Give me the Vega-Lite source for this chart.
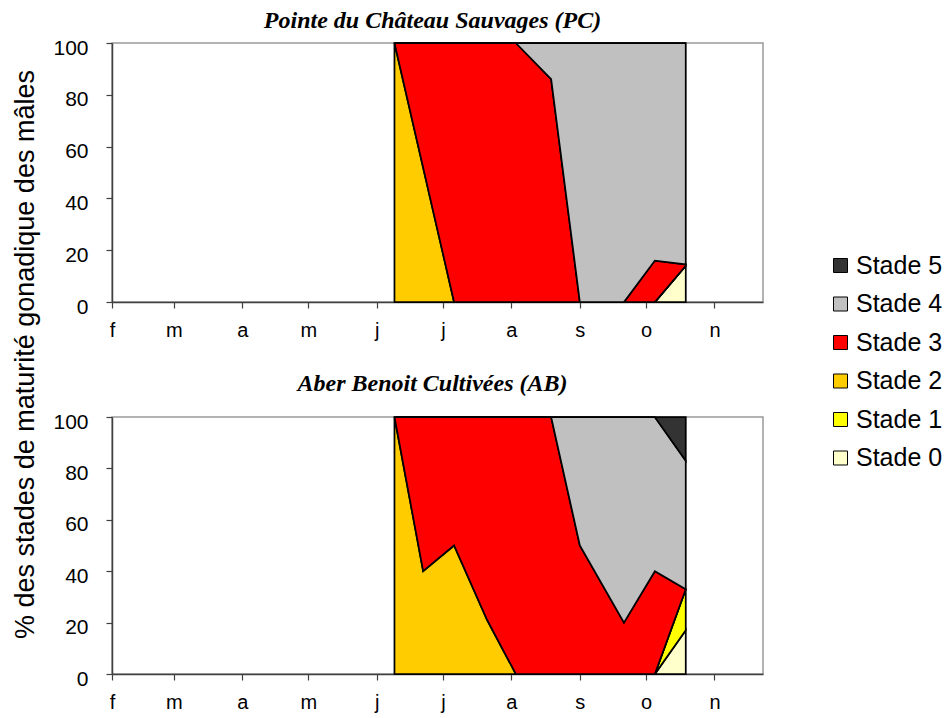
{
  "$schema": "https://vega.github.io/schema/vega-lite/v6.json",
  "background": "white",
  "padding": {"left": 10, "top": 8, "right": 2, "bottom": 5},
  "bounds": "flush",
  "spacing": 115,
  "data": {"values": [
    {"site":"PC","date":"2005-06-09","stade":"Stade 0","pct":0},
    {"site":"PC","date":"2005-06-09","stade":"Stade 1","pct":0},
    {"site":"PC","date":"2005-06-09","stade":"Stade 2","pct":100},
    {"site":"PC","date":"2005-06-09","stade":"Stade 3","pct":0},
    {"site":"PC","date":"2005-06-09","stade":"Stade 4","pct":0},
    {"site":"PC","date":"2005-06-09","stade":"Stade 5","pct":0},
    {"site":"PC","date":"2005-07-06","stade":"Stade 0","pct":0},
    {"site":"PC","date":"2005-07-06","stade":"Stade 1","pct":0},
    {"site":"PC","date":"2005-07-06","stade":"Stade 2","pct":0},
    {"site":"PC","date":"2005-07-06","stade":"Stade 3","pct":100},
    {"site":"PC","date":"2005-07-06","stade":"Stade 4","pct":0},
    {"site":"PC","date":"2005-07-06","stade":"Stade 5","pct":0},
    {"site":"PC","date":"2005-08-03","stade":"Stade 0","pct":0},
    {"site":"PC","date":"2005-08-03","stade":"Stade 1","pct":0},
    {"site":"PC","date":"2005-08-03","stade":"Stade 2","pct":0},
    {"site":"PC","date":"2005-08-03","stade":"Stade 3","pct":100},
    {"site":"PC","date":"2005-08-03","stade":"Stade 4","pct":0},
    {"site":"PC","date":"2005-08-03","stade":"Stade 5","pct":0},
    {"site":"PC","date":"2005-08-19","stade":"Stade 0","pct":0},
    {"site":"PC","date":"2005-08-19","stade":"Stade 1","pct":0},
    {"site":"PC","date":"2005-08-19","stade":"Stade 2","pct":0},
    {"site":"PC","date":"2005-08-19","stade":"Stade 3","pct":86},
    {"site":"PC","date":"2005-08-19","stade":"Stade 4","pct":14},
    {"site":"PC","date":"2005-08-19","stade":"Stade 5","pct":0},
    {"site":"PC","date":"2005-09-01","stade":"Stade 0","pct":0},
    {"site":"PC","date":"2005-09-01","stade":"Stade 1","pct":0},
    {"site":"PC","date":"2005-09-01","stade":"Stade 2","pct":0},
    {"site":"PC","date":"2005-09-01","stade":"Stade 3","pct":0},
    {"site":"PC","date":"2005-09-01","stade":"Stade 4","pct":100},
    {"site":"PC","date":"2005-09-01","stade":"Stade 5","pct":0},
    {"site":"PC","date":"2005-09-21","stade":"Stade 0","pct":0},
    {"site":"PC","date":"2005-09-21","stade":"Stade 1","pct":0},
    {"site":"PC","date":"2005-09-21","stade":"Stade 2","pct":0},
    {"site":"PC","date":"2005-09-21","stade":"Stade 3","pct":0},
    {"site":"PC","date":"2005-09-21","stade":"Stade 4","pct":100},
    {"site":"PC","date":"2005-09-21","stade":"Stade 5","pct":0},
    {"site":"PC","date":"2005-10-05","stade":"Stade 0","pct":0},
    {"site":"PC","date":"2005-10-05","stade":"Stade 1","pct":0},
    {"site":"PC","date":"2005-10-05","stade":"Stade 2","pct":0},
    {"site":"PC","date":"2005-10-05","stade":"Stade 3","pct":16},
    {"site":"PC","date":"2005-10-05","stade":"Stade 4","pct":84},
    {"site":"PC","date":"2005-10-05","stade":"Stade 5","pct":0},
    {"site":"PC","date":"2005-10-19","stade":"Stade 0","pct":14},
    {"site":"PC","date":"2005-10-19","stade":"Stade 1","pct":0},
    {"site":"PC","date":"2005-10-19","stade":"Stade 2","pct":0},
    {"site":"PC","date":"2005-10-19","stade":"Stade 3","pct":0.5},
    {"site":"PC","date":"2005-10-19","stade":"Stade 4","pct":85.5},
    {"site":"PC","date":"2005-10-19","stade":"Stade 5","pct":0},
    {"site":"AB","date":"2005-06-09","stade":"Stade 0","pct":0},
    {"site":"AB","date":"2005-06-09","stade":"Stade 1","pct":0},
    {"site":"AB","date":"2005-06-09","stade":"Stade 2","pct":100},
    {"site":"AB","date":"2005-06-09","stade":"Stade 3","pct":0},
    {"site":"AB","date":"2005-06-09","stade":"Stade 4","pct":0},
    {"site":"AB","date":"2005-06-09","stade":"Stade 5","pct":0},
    {"site":"AB","date":"2005-06-22","stade":"Stade 0","pct":0},
    {"site":"AB","date":"2005-06-22","stade":"Stade 1","pct":0},
    {"site":"AB","date":"2005-06-22","stade":"Stade 2","pct":40},
    {"site":"AB","date":"2005-06-22","stade":"Stade 3","pct":60},
    {"site":"AB","date":"2005-06-22","stade":"Stade 4","pct":0},
    {"site":"AB","date":"2005-06-22","stade":"Stade 5","pct":0},
    {"site":"AB","date":"2005-07-06","stade":"Stade 0","pct":0},
    {"site":"AB","date":"2005-07-06","stade":"Stade 1","pct":0},
    {"site":"AB","date":"2005-07-06","stade":"Stade 2","pct":50},
    {"site":"AB","date":"2005-07-06","stade":"Stade 3","pct":50},
    {"site":"AB","date":"2005-07-06","stade":"Stade 4","pct":0},
    {"site":"AB","date":"2005-07-06","stade":"Stade 5","pct":0},
    {"site":"AB","date":"2005-07-21","stade":"Stade 0","pct":0},
    {"site":"AB","date":"2005-07-21","stade":"Stade 1","pct":0},
    {"site":"AB","date":"2005-07-21","stade":"Stade 2","pct":21},
    {"site":"AB","date":"2005-07-21","stade":"Stade 3","pct":79},
    {"site":"AB","date":"2005-07-21","stade":"Stade 4","pct":0},
    {"site":"AB","date":"2005-07-21","stade":"Stade 5","pct":0},
    {"site":"AB","date":"2005-08-03","stade":"Stade 0","pct":0},
    {"site":"AB","date":"2005-08-03","stade":"Stade 1","pct":0},
    {"site":"AB","date":"2005-08-03","stade":"Stade 2","pct":0},
    {"site":"AB","date":"2005-08-03","stade":"Stade 3","pct":100},
    {"site":"AB","date":"2005-08-03","stade":"Stade 4","pct":0},
    {"site":"AB","date":"2005-08-03","stade":"Stade 5","pct":0},
    {"site":"AB","date":"2005-08-19","stade":"Stade 0","pct":0},
    {"site":"AB","date":"2005-08-19","stade":"Stade 1","pct":0},
    {"site":"AB","date":"2005-08-19","stade":"Stade 2","pct":0},
    {"site":"AB","date":"2005-08-19","stade":"Stade 3","pct":100},
    {"site":"AB","date":"2005-08-19","stade":"Stade 4","pct":0},
    {"site":"AB","date":"2005-08-19","stade":"Stade 5","pct":0},
    {"site":"AB","date":"2005-09-01","stade":"Stade 0","pct":0},
    {"site":"AB","date":"2005-09-01","stade":"Stade 1","pct":0},
    {"site":"AB","date":"2005-09-01","stade":"Stade 2","pct":0},
    {"site":"AB","date":"2005-09-01","stade":"Stade 3","pct":50},
    {"site":"AB","date":"2005-09-01","stade":"Stade 4","pct":50},
    {"site":"AB","date":"2005-09-01","stade":"Stade 5","pct":0},
    {"site":"AB","date":"2005-09-21","stade":"Stade 0","pct":0},
    {"site":"AB","date":"2005-09-21","stade":"Stade 1","pct":0},
    {"site":"AB","date":"2005-09-21","stade":"Stade 2","pct":0},
    {"site":"AB","date":"2005-09-21","stade":"Stade 3","pct":20},
    {"site":"AB","date":"2005-09-21","stade":"Stade 4","pct":80},
    {"site":"AB","date":"2005-09-21","stade":"Stade 5","pct":0},
    {"site":"AB","date":"2005-10-05","stade":"Stade 0","pct":0},
    {"site":"AB","date":"2005-10-05","stade":"Stade 1","pct":0},
    {"site":"AB","date":"2005-10-05","stade":"Stade 2","pct":0},
    {"site":"AB","date":"2005-10-05","stade":"Stade 3","pct":40},
    {"site":"AB","date":"2005-10-05","stade":"Stade 4","pct":60},
    {"site":"AB","date":"2005-10-05","stade":"Stade 5","pct":0},
    {"site":"AB","date":"2005-10-19","stade":"Stade 0","pct":17},
    {"site":"AB","date":"2005-10-19","stade":"Stade 1","pct":16},
    {"site":"AB","date":"2005-10-19","stade":"Stade 2","pct":0},
    {"site":"AB","date":"2005-10-19","stade":"Stade 3","pct":0},
    {"site":"AB","date":"2005-10-19","stade":"Stade 4","pct":50},
    {"site":"AB","date":"2005-10-19","stade":"Stade 5","pct":17}
  ]},
  "vconcat": [
    {
      "width": 651,
      "height": 259,
      "title": {"text": "Pointe du Château Sauvages (PC)", "offset": 4, "dx": -5},
      "transform": [{"filter": "datum.site === 'PC'"}],
      "mark": {"type": "area", "stroke": "black", "strokeWidth": 1.75, "opacity": 1},
      "encoding": {
        "x": {"field": "date", "type": "temporal",
              "scale": {"type": "utc", "domain": [{"year": 2005, "month": 2, "date": 1, "utc": true}, {"year": 2005, "month": 11, "date": 23, "utc": true}]},
              "axis": {"title": null, "tickCount": {"interval": "month", "step": 1},
                       "labelExpr": "['j','f','m','a','m','j','j','a','s','o','n','d'][utcmonth(datum.value)]"}},
        "y": {"field": "pct", "type": "quantitative", "aggregate": "sum", "stack": "zero",
              "scale": {"domain": [0, 100], "nice": false},
              "axis": {"title": "% des stades de maturité gonadique des mâles", "values": [0, 20, 40, 60, 80, 100],
                       "titleX": -79, "titleY": 311, "titleAngle": -90, "titleAlign": "center", "titleBaseline": "alphabetic",
                       "titleFontSize": 27, "titleFontWeight": "normal", "titleFont": "Liberation Sans", "titleColor": "black"}},
        "color": {"field": "stade", "type": "nominal",
                  "scale": {"domain": ["Stade 5", "Stade 4", "Stade 3", "Stade 2", "Stade 1", "Stade 0"],
                            "range": ["#333333", "#C0C0C0", "#FF0000", "#FFCC00", "#FFFF00", "#FFFFCC"]},
                  "legend": {"title": null, "orient": "none", "legendX": 716, "legendY": 210}},
        "order": {"field": "stade", "sort": "ascending"}
      }
    },
    {
      "width": 651,
      "height": 257,
      "title": {"text": "Aber Benoit Cultivées (AB)", "offset": 15, "dx": -5},
      "transform": [{"filter": "datum.site === 'AB'"}],
      "mark": {"type": "area", "stroke": "black", "strokeWidth": 1.75, "opacity": 1},
      "encoding": {
        "x": {"field": "date", "type": "temporal",
              "scale": {"type": "utc", "domain": [{"year": 2005, "month": 2, "date": 1, "utc": true}, {"year": 2005, "month": 11, "date": 23, "utc": true}]},
              "axis": {"title": null, "tickCount": {"interval": "month", "step": 1},
                       "labelExpr": "['j','f','m','a','m','j','j','a','s','o','n','d'][utcmonth(datum.value)]"}},
        "y": {"field": "pct", "type": "quantitative", "aggregate": "sum", "stack": "zero",
              "scale": {"domain": [0, 100], "nice": false},
              "axis": {"title": null, "values": [0, 20, 40, 60, 80, 100]}},
        "color": {"field": "stade", "type": "nominal",
                  "scale": {"domain": ["Stade 5", "Stade 4", "Stade 3", "Stade 2", "Stade 1", "Stade 0"],
                            "range": ["#333333", "#C0C0C0", "#FF0000", "#FFCC00", "#FFFF00", "#FFFFCC"]},
                  "legend": {"title": null, "orient": "none", "legendX": 716, "legendY": 210}},
        "order": {"field": "stade", "sort": "ascending"}
      }
    }
  ],
  "config": {
    "view": {"stroke": "#999999", "strokeWidth": 1.5},
    "title": {"font": "Liberation Serif", "fontSize": 24, "fontStyle": "italic", "fontWeight": "bold", "color": "black", "anchor": "middle"},
    "axis": {"grid": false, "domainColor": "#404040", "domainWidth": 1.5, "tickColor": "#404040", "tickWidth": 1.2, "tickSize": 6,
             "labelFont": "Liberation Sans", "labelFontSize": 20, "labelColor": "black"},
    "axisX": {"labelPadding": 12, "labelFlush": false, "labelAngle": 0},
    "axisY": {"labelPadding": 18, "labelOffset": 5, "labelFontSize": 21},
    "legend": {"labelFont": "Liberation Sans", "labelFontSize": 25, "labelColor": "black", "symbolType": "square",
               "symbolSize": 196, "symbolStrokeColor": "black", "symbolStrokeWidth": 1, "rowPadding": 12.5, "labelOffset": 3, "symbolOpacity": 1}
  }
}
